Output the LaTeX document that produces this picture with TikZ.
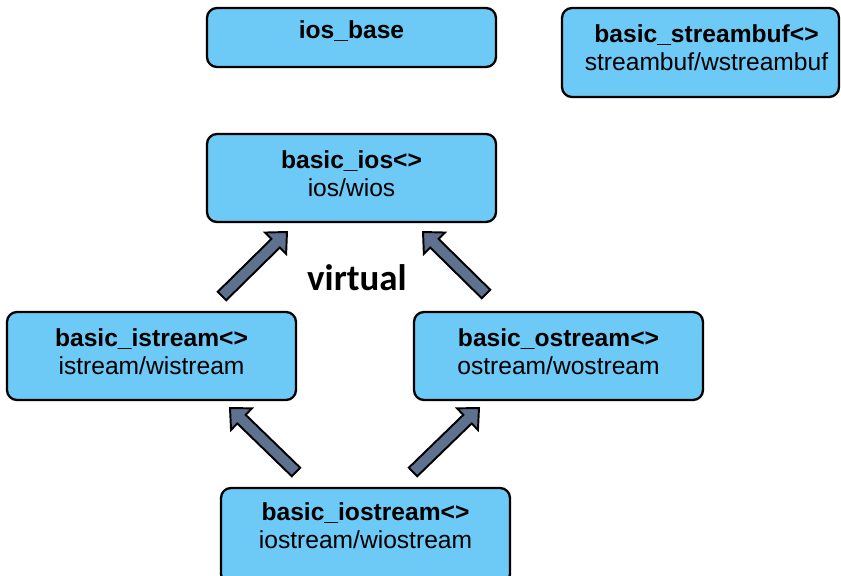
\documentclass[tikz,border=0pt]{standalone}
\usepackage{fontspec}
\setmainfont{Liberation Sans}
\newfontfamily\calibrifont{Carlito}
\usetikzlibrary{calc}

\definecolor{boxblue}{RGB}{109,202,246}
\definecolor{arrowslate}{RGB}{94,113,142}

% bold class name over its typedefs, lifted a little inside the box
\newcommand\classtext[3][0.03cm]{\raisebox{#1}[\height][\depth]{%
    \begin{tabular}{@{}c@{}}\textbf{#2}\\#3\end{tabular}}}

\begin{document}
\begin{tikzpicture}[
        cls/.style={draw, line width=1.3pt, rounded corners=0.2cm, fill=boxblue,
            minimum width=5.78cm, minimum height=1.76cm, inner sep=0pt,
            font=\fontsize{14}{16}\selectfont},
        fatarrow/.style={draw, line width=1.1pt, fill=arrowslate, line join=miter}
    ]
        \useasboundingbox (0,0) rectangle (16.82,-11.52);

        % Class boxes
        \node[cls, minimum height=1.18cm] (iosbase) at (7.03,-0.75)
            {\raisebox{0.12cm}[\height][\depth]{\textbf{ios\_base}}};
        \node[cls, minimum width=5.54cm, minimum height=1.78cm] (streambuf) at (14.01,-1.05)
            {\kern0.24cm\classtext[0.04cm]{basic\_streambuf<>}{streambuf/wstreambuf}};
        \node[cls] (ios) at (7.03,-3.56) {\classtext{basic\_ios<>}{ios/wios}};
        \node[cls] (istream) at (3.03,-7.12) {\classtext{basic\_istream<>}{istream/wistream}};
        \node[cls] (ostream) at (11.17,-7.12) {\classtext{basic\_ostream<>}{ostream/wostream}};
        \node[cls, minimum height=1.92cm] (iostream) at (7.31,-10.72)
            {\classtext[0.15cm]{basic\_iostream<>}{iostream/wiostream}};

        % Label between the upper arrows
        \node[font=\calibrifont\bfseries\fontsize{21}{24}\selectfont] (virt) at (7.14,-5.56) {virtual};

        % Tails and tips of the block arrows
        \coordinate (t1) at (4.44,-5.92);  \coordinate (p1) at (5.74,-4.64);
        \coordinate (t2) at (9.72,-5.88);  \coordinate (p2) at (8.46,-4.64);
        \coordinate (t3) at (5.92,-9.44);  \coordinate (p3) at (4.60,-8.16);
        \coordinate (t4) at (8.26,-9.44);  \coordinate (p4) at (9.58,-8.16);

        % Draw the block arrows
        \foreach \tl/\tp in {t1/p1, t2/p2, t3/p3, t4/p4} {
            \coordinate (hb) at ($(\tp)!0.32cm!(\tl)$);
            \draw[fatarrow] ($(\tl)!0.12cm!90:(\tp)$) -- ($(hb)!0.12cm!-90:(\tl)$)
                -- ($(hb)!0.3cm!-90:(\tl)$) -- (\tp) -- ($(hb)!0.3cm!90:(\tl)$)
                -- ($(hb)!0.12cm!90:(\tl)$) -- ($(\tl)!0.12cm!-90:(\tp)$) -- cycle;
        }

    \end{tikzpicture}
\end{document}
